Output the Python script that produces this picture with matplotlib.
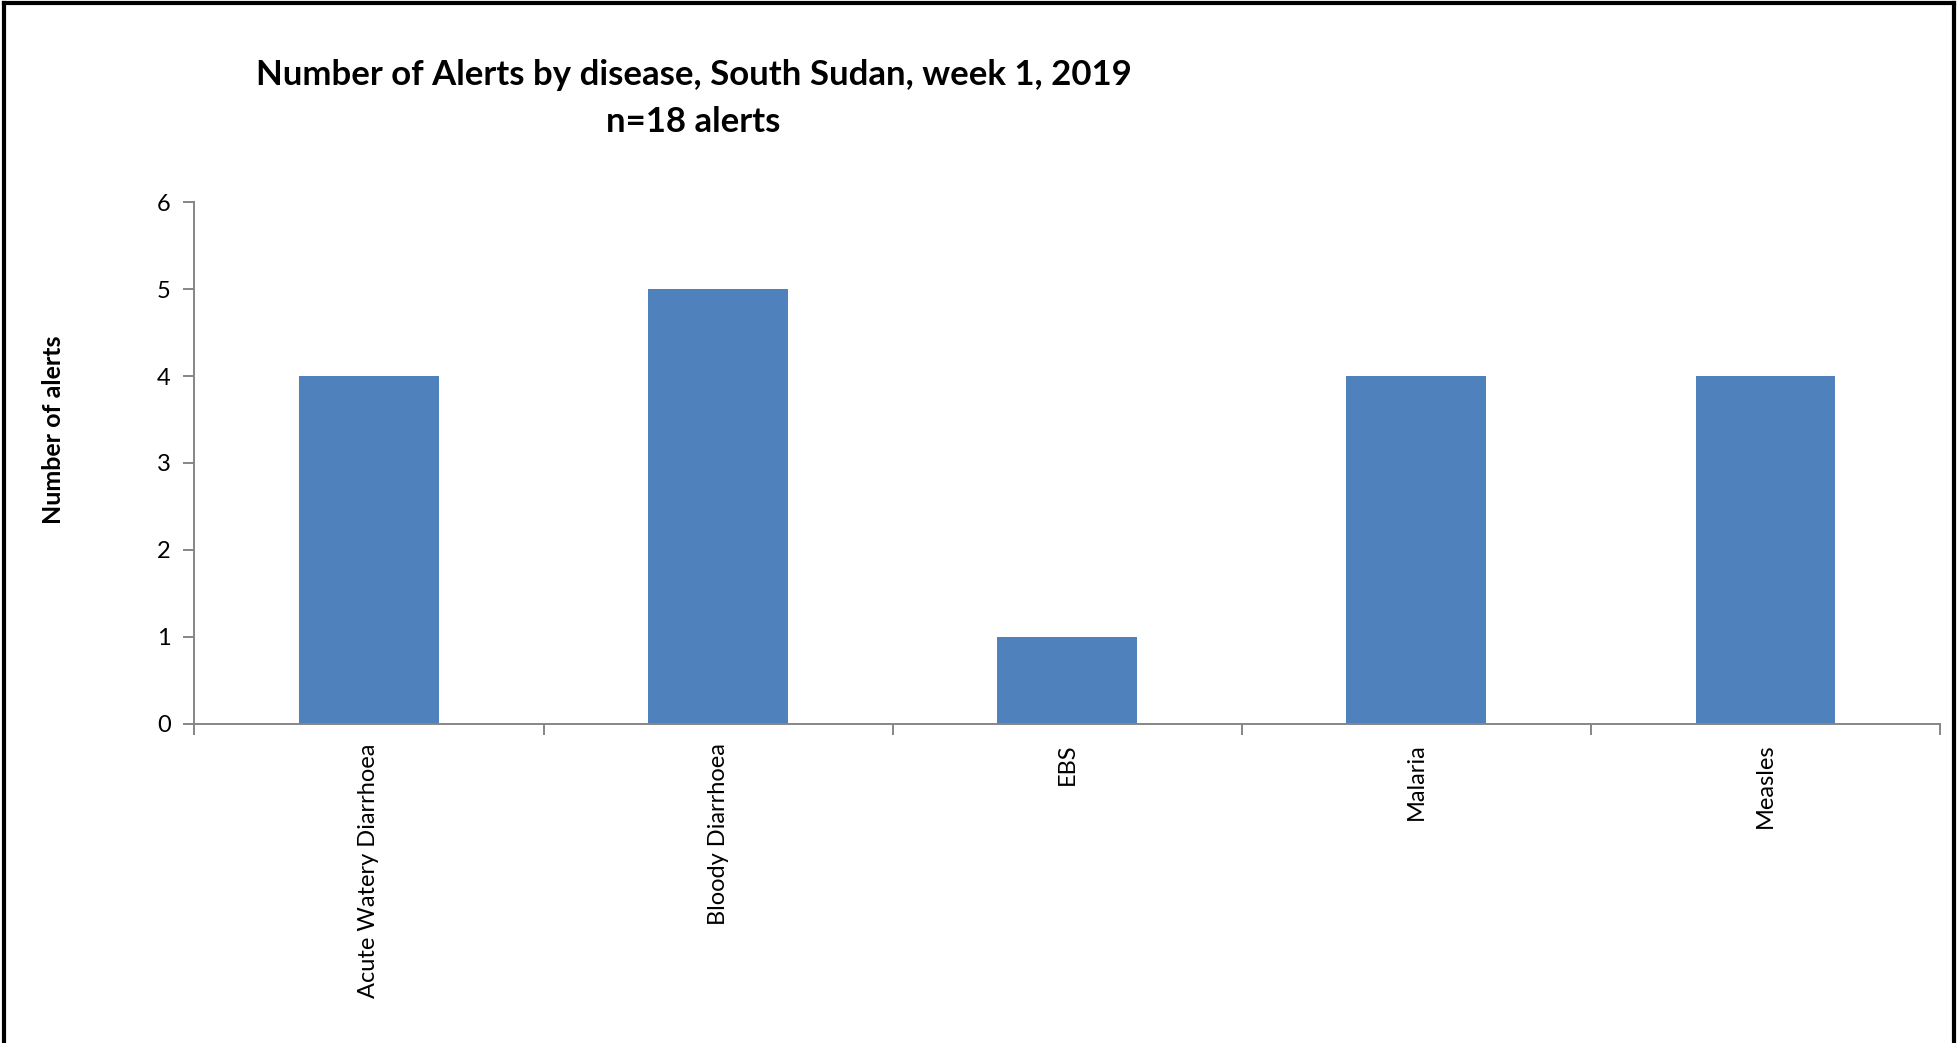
import matplotlib.pyplot as plt
from matplotlib.lines import Line2D
import numpy as np

diseases = ["Acute Watery Diarrhoea", "Bloody Diarrhoea", "EBS", "Malaria", "Measles"]
alerts = [4, 5, 1, 4, 4]

plt.rcParams['font.family'] = ['Lato', 'DejaVu Sans']

fig = plt.figure(figsize=(19.58, 10.43), dpi=100)
ax = fig.add_axes([0.0993, 0.3059, 0.8915, 0.5004])

x = np.arange(len(diseases))
ax.bar(x, alerts, width=0.4, color="#4F81BD", zorder=2)

ax.set_xlim(-0.5, len(diseases) - 0.5)
ax.set_ylim(0, 6)
ax.set_yticks(range(0, 7))
ax.tick_params(axis="y", labelsize=17, length=8, width=1.4, color="#868686", pad=9)

# category labels at bar centres, tick marks between categories
ax.set_xticks(x)
ax.set_xticklabels(diseases, rotation=90, fontsize=17)
ax.tick_params(axis="x", which="major", length=0, pad=14)
ax.set_xticks(np.arange(-0.5, len(diseases)), minor=True)
ax.tick_params(axis="x", which="minor", length=8, width=1.4, color="#868686")

for side in ["top", "right"]:
    ax.spines[side].set_visible(False)
for side in ["left", "bottom"]:
    ax.spines[side].set_color("#868686")
    ax.spines[side].set_linewidth(1.4)

fig.text(0.0271, 0.588, "Number of alerts", rotation=90, ha="center", va="center",
         fontsize=18, fontweight="bold")

fig.text(0.3542, 0.928, "Number of Alerts by disease, South Sudan, week 1, 2019",
         ha="center", va="center", fontsize=25, fontweight="bold")
fig.text(0.3542, 0.883, "n=18 alerts", ha="center", va="center",
         fontsize=25, fontweight="bold")

# outer frame
frame = dict(color="black", linewidth=3, transform=fig.transFigure)
fig.add_artist(Line2D([0.002, 0.002], [0, 0.997], **frame))
fig.add_artist(Line2D([0.002, 0.998], [0.997, 0.997], **frame))
fig.add_artist(Line2D([0.998, 0.998], [0, 0.997], **frame))

fig.savefig("out.png", dpi=100)
